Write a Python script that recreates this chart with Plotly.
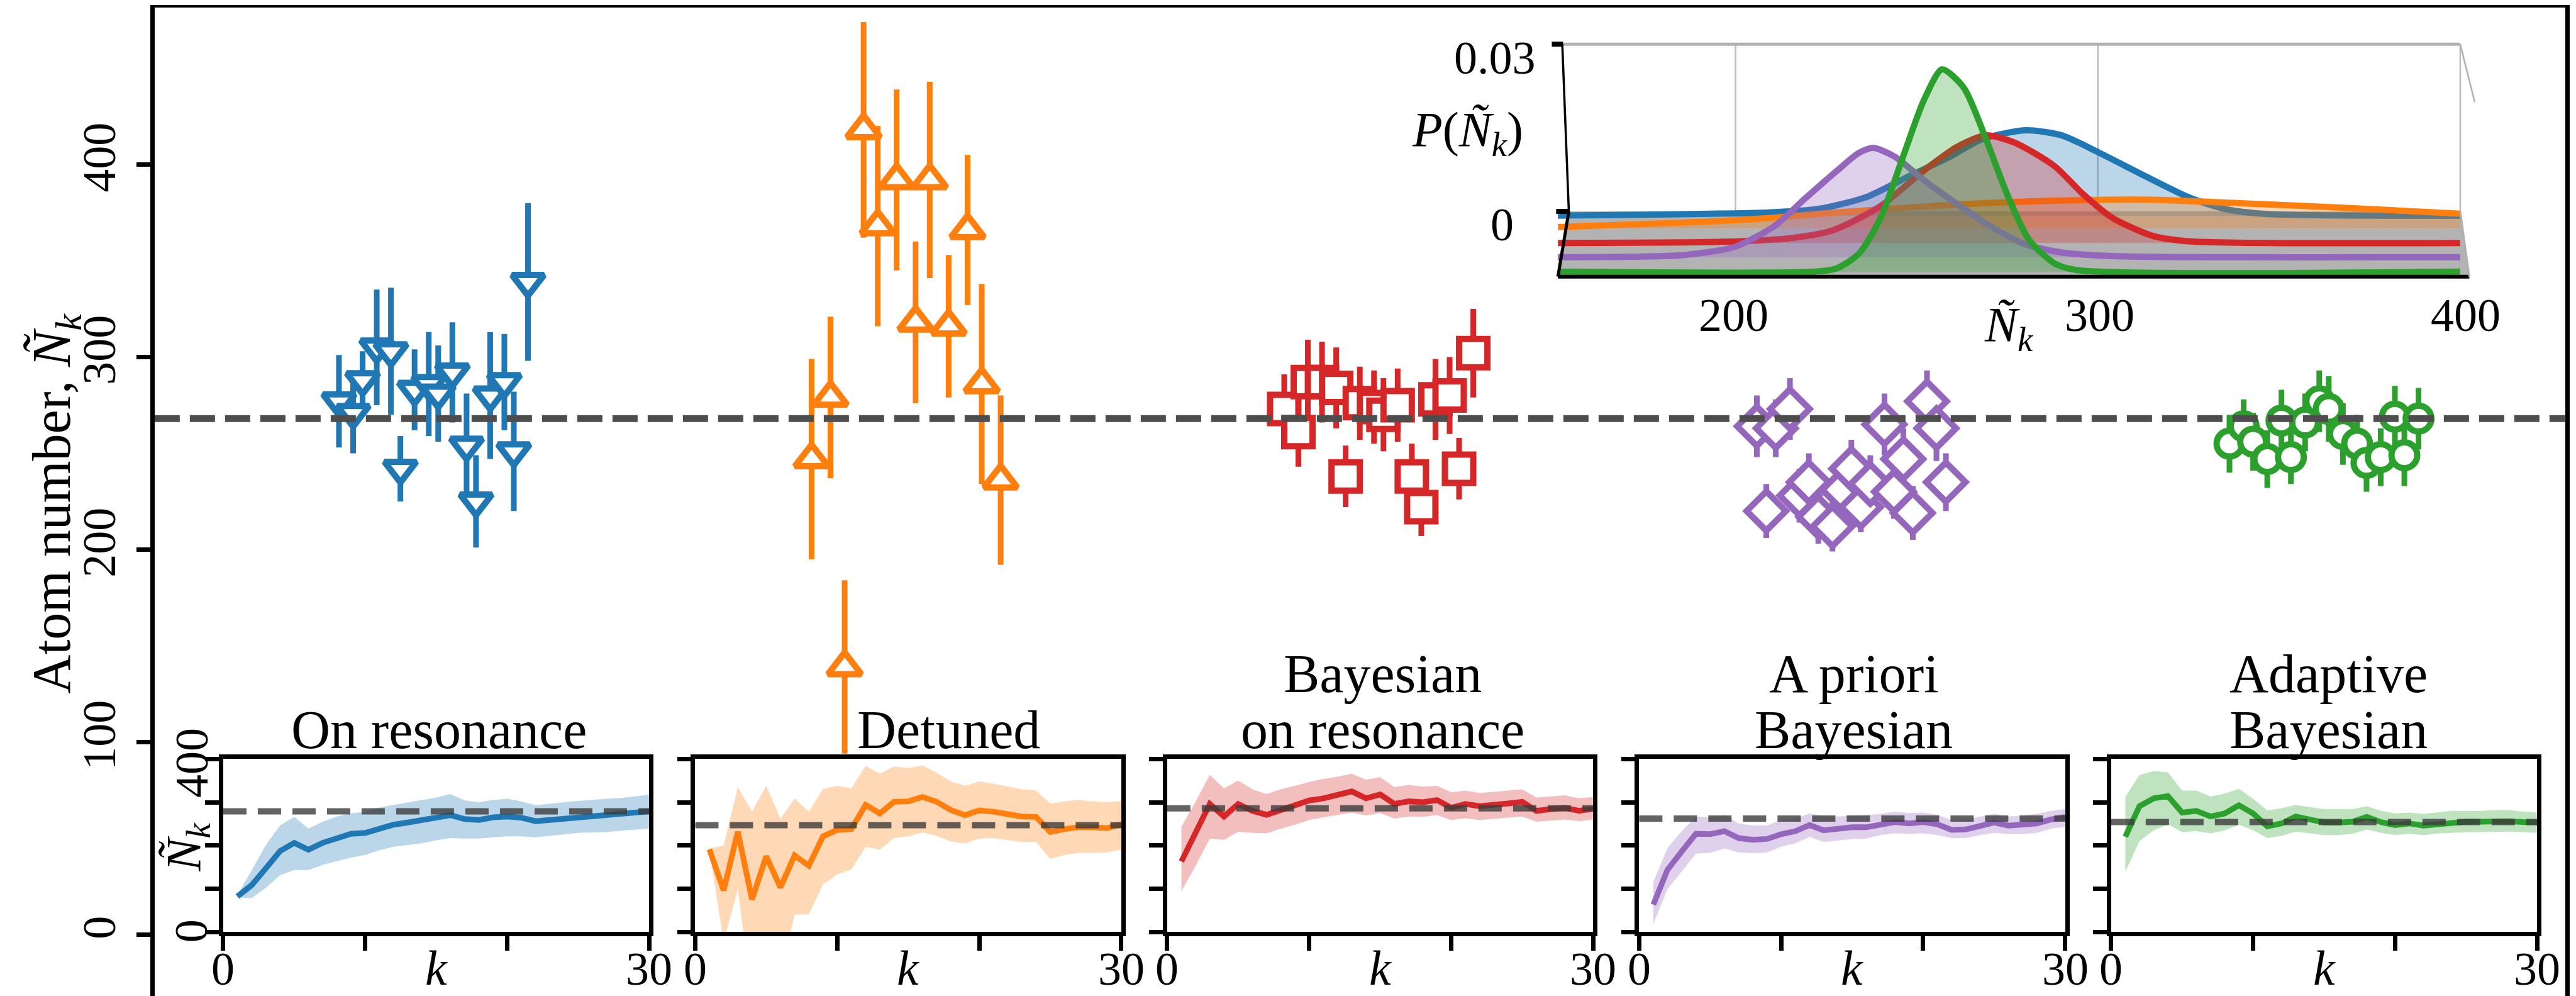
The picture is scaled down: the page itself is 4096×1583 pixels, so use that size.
import plotly.graph_objects as go

# ---------------- data ----------------
BLUE, ORANGE, RED, PURPLE, GREEN = '#1f77b4', '#ff7f0e', '#d62728', '#9467bd', '#2ca02c'

TRUE_N = 268

# main panel: per-protocol estimates (x = group index + offset)
blue_dx = [-0.21, -0.18, -0.16, -0.13, -0.10, -0.08, -0.05, -0.02, 0.00, 0.03, 0.06, 0.08, 0.11, 0.14, 0.16, 0.19]
blue_y = [277, 271, 288, 305, 303, 242, 283, 286, 281, 292, 254, 225, 280, 287, 251, 339]
blue_err = [24, 21, 15, 30, 33, 17, 21, 27, 25, 26, 27, 24, 33, 25, 31, 41]

orange_dx = [-0.21, -0.17, -0.14, -0.10, -0.07, -0.03, 0.01, 0.04, 0.08, 0.12, 0.15, 0.19]
orange_y = [247, 279, 139, 418, 368, 392, 318, 392, 316, 366, 286, 236]
orange_err = [52, 42, 45, 56, 52, 47, 42, 51, 37, 39, 52, 44]

red_dx = [-0.21, -0.18, -0.16, -0.13, -0.10, -0.08, -0.05, -0.02, 0.00, 0.03, 0.06, 0.08, 0.11, 0.14, 0.16, 0.19]
red_y = [273, 261, 287, 287, 284, 238, 276, 274, 270, 275, 238, 222, 278, 280, 242, 302]
red_err = [18, 18, 22, 21, 21, 16, 19, 19, 19, 19, 17, 15, 21, 20, 16, 23]

purple_dx = [-0.21, -0.19, -0.17, -0.14, -0.12, -0.10, -0.08, -0.05, -0.03, -0.01, 0.01, 0.03, 0.06, 0.08, 0.10, 0.12, 0.15, 0.17, 0.19]
purple_y = [264, 220, 263, 273, 228, 235, 217, 212, 231, 242, 222, 234, 265, 230, 247, 219, 277, 263, 235]
purple_err = [16, 14, 15, 16, 14, 15, 14, 13, 13, 15, 13, 15, 16, 14, 16, 14, 16, 17, 15]

green_dx = [-0.21, -0.18, -0.16, -0.13, -0.10, -0.08, -0.05, -0.02, 0.00, 0.03, 0.06, 0.08, 0.11, 0.14, 0.16, 0.19]
green_y = [255, 264, 256, 247, 267, 248, 266, 277, 273, 260, 255, 245, 248, 269, 249, 268]
green_err = [15, 14, 15, 15, 16, 14, 15, 16, 17, 16, 15, 15, 15, 16, 16, 16]

# bottom panels: running estimate vs k
k_vals = list(range(1, 31))
res_mean = [82, 108, 147, 187, 206, 190, 206, 218, 227, 229, 240, 248, 253, 258, 265, 270, 261, 259, 265, 267, 264, 256, 259, 262, 266, 268, 270, 272, 275, 279]
res_hi = [86, 142, 201, 246, 266, 239, 255, 267, 274, 278, 288, 294, 300, 305, 311, 319, 304, 300, 305, 308, 302, 293, 297, 300, 303, 306, 308, 310, 314, 317]
res_lo = [80, 78, 102, 131, 143, 143, 155, 164, 172, 178, 189, 197, 201, 205, 212, 217, 216, 216, 219, 221, 221, 219, 222, 226, 229, 230, 231, 234, 237, 239]

det_mean = [191, 96, 232, 75, 175, 103, 177, 153, 221, 236, 238, 294, 274, 301, 302, 312, 301, 282, 270, 281, 278, 273, 267, 266, 231, 238, 242, 242, 240, 249]
det_hi = [193, 200, 335, 278, 338, 262, 308, 278, 331, 338, 332, 384, 366, 383, 379, 385, 368, 348, 338, 348, 343, 336, 330, 327, 297, 302, 305, 302, 300, 303]
det_lo = [189, -23, 99, -155, -120, -103, 40, 40, 110, 133, 145, 197, 190, 217, 221, 230, 222, 209, 205, 216, 217, 213, 208, 208, 169, 178, 183, 183, 184, 190]

bay_mean = [163, 227, 296, 267, 296, 280, 271, 282, 293, 304, 309, 318, 325, 309, 318, 296, 302, 300, 305, 287, 296, 291, 293, 297, 301, 280, 284, 287, 280, 285]
bay_hi = [243, 301, 363, 332, 350, 330, 319, 330, 338, 347, 354, 359, 366, 352, 358, 335, 340, 336, 338, 323, 327, 321, 324, 327, 330, 311, 313, 316, 309, 312]
bay_lo = [94, 153, 216, 213, 232, 229, 228, 239, 248, 259, 265, 271, 276, 269, 275, 262, 267, 266, 270, 259, 263, 259, 262, 265, 267, 255, 258, 260, 256, 260]

apr_mean = [63, 144, 186, 227, 226, 233, 217, 213, 215, 226, 233, 247, 235, 239, 242, 242, 249, 254, 251, 254, 249, 236, 237, 246, 253, 246, 247, 251, 260, 266]
apr_hi = [115, 194, 233, 267, 265, 270, 251, 246, 246, 259, 262, 274, 267, 267, 269, 270, 273, 278, 275, 276, 271, 259, 260, 267, 273, 267, 269, 273, 280, 284]
apr_lo = [18, 99, 140, 181, 183, 193, 184, 182, 184, 197, 205, 220, 208, 211, 215, 216, 224, 228, 227, 228, 224, 217, 217, 224, 229, 226, 226, 229, 239, 243]

ada_mean = [220, 291, 309, 314, 276, 280, 267, 274, 293, 274, 244, 251, 267, 259, 253, 253, 255, 266, 254, 247, 251, 246, 249, 254, 255, 255, 256, 256, 254, 253]
ada_hi = [312, 363, 372, 369, 327, 327, 313, 320, 331, 308, 281, 286, 294, 289, 284, 284, 284, 291, 280, 274, 276, 273, 276, 280, 280, 280, 282, 282, 278, 276]
ada_lo = [139, 210, 235, 249, 231, 233, 228, 235, 248, 235, 217, 222, 232, 228, 224, 224, 227, 237, 229, 224, 227, 224, 228, 229, 231, 231, 232, 232, 231, 229]

ref_lines = [279, 247, 286, 262, 254]

titles = [["On resonance"], ["Detuned"], ["Bayesian", "on resonance"], ["A priori", "Bayesian"], ["Adaptive", "Bayesian"]]

K_TICKS = [0, 10, 20, 30]
K_LABELS = ['0', '30']          # labels shown at k = 0 and k = 30
N_TICKS = [0, 100, 200, 300, 400]
N_LABELS = ['0', '400']         # labels shown (first panel only)

# inset: final posteriors P(N_k)
blue_px = [151, 209, 223, 236, 248, 259, 268, 280, 290, 300, 313, 325, 335, 346, 400]
blue_pp = [0, 0.00055, 0.0012, 0.0033, 0.0071, 0.0105, 0.0137, 0.0153, 0.0144, 0.0114, 0.0071, 0.0033, 0.0012, 0.0003, 0]
orange_px = [151, 202, 232, 263, 294, 315, 335, 367, 400]
orange_pp = [0.0002, 0.0015, 0.003, 0.0043, 0.005, 0.0051, 0.0046, 0.0037, 0.0026]
red_px = [151, 196, 215, 227, 240, 252, 261, 269, 277, 288, 296, 304, 315, 325, 400]
red_pp = [0, 0.0002, 0.00085, 0.0023, 0.0066, 0.013, 0.0172, 0.0193, 0.018, 0.0138, 0.0087, 0.0045, 0.0013, 0.0003, 0]
purple_px = [151, 186, 200, 211, 219, 228, 234, 238, 244, 252, 261, 271, 280, 290, 304, 400]
purple_pp = [0, 0.0004, 0.0019, 0.0057, 0.0104, 0.0155, 0.0187, 0.0196, 0.018, 0.0138, 0.0096, 0.0053, 0.0023, 0.00085, 0.0002, 0]
green_px = [151, 222, 228, 234, 240, 246, 252, 257, 263, 269, 275, 281, 288, 294, 400]
green_pp = [0, 0, 0.0006, 0.0032, 0.0096, 0.0202, 0.0308, 0.0363, 0.033, 0.024, 0.0138, 0.0057, 0.0015, 0.0003, 0]
inset_xticks = ['200', '300', '400']

# ---------------- layout helpers (reference frame 4994 x 1930) ----------------
FW, FH = 4994.0, 1930.0
def px(v): return v / FW
def py(v): return 1 - v / FH

FONT = "Liberation Serif"
TICK_FS = 74
TITLE_FS = 86
LW = 6.5

def rgba(h, a):
    h = h.lstrip('#')
    return 'rgba(%d,%d,%d,%.2f)' % (int(h[0:2], 16), int(h[2:4], 16), int(h[4:6], 16), a)

fig = go.Figure()

# ---------------- main panel ----------------
groups = [
    (0, blue_dx, blue_y, blue_err, BLUE, 'triangle-down', 44),
    (1, orange_dx, orange_y, orange_err, ORANGE, 'triangle-up', 46),
    (2, red_dx, red_y, red_err, RED, 'square', 45),
    (3, purple_dx, purple_y, purple_err, PURPLE, 'diamond', 48),
    (4, green_dx, green_y, green_err, GREEN, 'circle', 41),
]
for gi, dxs, ys, es, col, sym, size in groups:
    fig.add_trace(go.Scatter(
        x=[gi + d for d in dxs], y=ys, mode='markers', xaxis='x', yaxis='y',
        error_y=dict(type='data', array=es, visible=True, color=col, thickness=9, width=0),
        marker=dict(symbol=sym, size=size, color='white', line=dict(color=col, width=10)),
        showlegend=False, hoverinfo='skip'))

# ---------------- bottom panels ----------------
subdata = [(res_mean, res_lo, res_hi, BLUE), (det_mean, det_lo, det_hi, ORANGE),
           (bay_mean, bay_lo, bay_hi, RED), (apr_mean, apr_lo, apr_hi, PURPLE),
           (ada_mean, ada_lo, ada_hi, GREEN)]
for i, (m, lo, hi, col) in enumerate(subdata):
    a = i + 2
    fig.add_trace(go.Scatter(x=k_vals, y=lo, mode='lines', line=dict(width=0, color=col),
                             xaxis='x%d' % a, yaxis='y%d' % a, showlegend=False, hoverinfo='skip'))
    fig.add_trace(go.Scatter(x=k_vals, y=hi, mode='lines', line=dict(width=0, color=col),
                             fill='tonexty', fillcolor=rgba(col, 0.3),
                             xaxis='x%d' % a, yaxis='y%d' % a, showlegend=False, hoverinfo='skip'))
    fig.add_trace(go.Scatter(x=k_vals, y=m, mode='lines', line=dict(width=9, color=col),
                             xaxis='x%d' % a, yaxis='y%d' % a, showlegend=False, hoverinfo='skip'))

# ---------------- inset ----------------
DEPTH = [0.00074, 0.003, 0.00565, 0.0082, 0.0108]
curves = [(blue_px, blue_pp, BLUE), (orange_px, orange_pp, ORANGE), (red_px, red_pp, RED),
          (purple_px, purple_pp, PURPLE), (green_px, green_pp, GREEN)]
for (xs, ps, col), d in zip(curves, DEPTH):
    fig.add_trace(go.Scatter(x=xs, y=[-d] * len(xs), mode='lines', line=dict(width=0, color=col),
                             xaxis='x7', yaxis='y7', showlegend=False, hoverinfo='skip'))
    fig.add_trace(go.Scatter(x=xs, y=[p - d for p in ps], mode='lines',
                             line=dict(width=10, color=col, shape='spline', smoothing=0.7),
                             fill='tonexty', fillcolor=rgba(col, 0.3),
                             xaxis='x7', yaxis='y7', showlegend=False, hoverinfo='skip'))

# ---------------- axes ----------------
layout = dict(
    width=4096, height=1583, margin=dict(l=0, r=0, t=0, b=0, pad=0, autoexpand=False),
    paper_bgcolor='white', plot_bgcolor='rgba(0,0,0,0)',
    font=dict(family=FONT, size=TICK_FS, color='black'),
    showlegend=False,
)
layout['xaxis'] = dict(domain=[px(290), px(4963)], range=[-0.6, 4.5], anchor='y', automargin=False,
                       showticklabels=False, ticks='', showline=True, mirror=True,
                       linecolor='black', linewidth=LW, showgrid=False, zeroline=False)
layout['yaxis'] = dict(domain=[py(1928), py(5)], range=[-34, 481.5], anchor='x', automargin=False,
                       tickvals=N_TICKS, ticks='outside', ticklen=22, tickwidth=LW,
                       tickcolor='black', tickangle=-90, showline=True, mirror=True,
                       linecolor='black', linewidth=LW, showgrid=False, zeroline=False,
                       ticklabelstandoff=5, tickfont=dict(family=FONT, size=TICK_FS))

SUB_LEFT = [423, 1338, 2253, 3168, 4083]
SUB_W = 826
for i in range(5):
    a = i + 2
    layout['xaxis%d' % a] = dict(domain=[px(SUB_LEFT[i]), px(SUB_LEFT[i] + SUB_W)], range=[0, 30],
                                 anchor='y%d' % a, automargin=False, tickvals=K_TICKS,
                                 showticklabels=False,
                                 ticks='outside', ticklen=23, tickwidth=LW, tickcolor='black',
                                 showline=True, mirror=True, linecolor='black', linewidth=LW,
                                 showgrid=False, zeroline=False)
    layout['yaxis%d' % a] = dict(domain=[py(1796), py(1461)], range=[0, 400], anchor='x%d' % a,
                                 automargin=False, tickvals=N_TICKS, showticklabels=False,
                                 ticks='outside', ticklen=22, tickwidth=LW, tickcolor='black',
                                 showline=True, mirror=True, linecolor='black', linewidth=LW,
                                 showgrid=False, zeroline=False)

layout['xaxis7'] = dict(domain=[px(2986), px(4795)], range=[147.5, 405], anchor='y7', visible=False,
                        automargin=False)
layout['yaxis7'] = dict(domain=[py(535), py(70.6)], range=[-0.0125, 0.0305], anchor='x7', visible=False,
                        automargin=False)

# ---------------- shapes ----------------
shapes = []
shapes.append(dict(type='line', xref='x domain', yref='y', x0=0, x1=1, y0=TRUE_N, y1=TRUE_N,
                   line=dict(color='#4d4d4d', width=11, dash='40px,16px'), layer='above'))
for i in range(5):
    a = i + 2
    shapes.append(dict(type='line', xref='x%d domain' % a, yref='y%d' % a, x0=0, x1=1,
                       y0=ref_lines[i], y1=ref_lines[i],
                       line=dict(color='rgba(60,60,60,0.8)', width=10, dash='37px,18px'), layer='above'))

# inset 3-D box decoration (in inset coordinates)
FLOOR = -0.0117
shapes.append(dict(type='path', xref='x7', yref='y7',
                   path='M 154,0 L 400,0 L 402.5,%g L 151,%g Z' % (FLOOR, FLOOR),
                   fillcolor='#b3b3b3', line=dict(width=0), layer='below'))
for gx in [200, 300, 400]:
    shapes.append(dict(type='line', xref='x7', yref='y7', x0=gx, x1=gx, y0=0, y1=0.03,
                       line=dict(color='#bdbdbd', width=2.5), layer='below'))
shapes.append(dict(type='line', xref='x7', yref='y7', x0=152.2, x1=400, y0=0.03, y1=0.03,
                   line=dict(color='#b0b0b0', width=5), layer='below'))
shapes.append(dict(type='line', xref='x7', yref='y7', x0=400, x1=404, y0=0.03, y1=0.0196,
                   line=dict(color='#b0b0b0', width=2.5), layer='below'))
shapes.append(dict(type='line', xref='x7', yref='y7', x0=152.2, x1=154, y0=0.03, y1=0,
                   line=dict(color='black', width=3.5)))
shapes.append(dict(type='line', xref='x7', yref='y7', x0=154, x1=151, y0=0, y1=FLOOR,
                   line=dict(color='black', width=5)))
shapes.append(dict(type='line', xref='x7', yref='y7', x0=151, x1=402.5, y0=FLOOR, y1=FLOOR,
                   line=dict(color='black', width=6)))
shapes.append(dict(type='line', xref='x7', yref='y7', x0=400, x1=402.5, y0=0, y1=FLOOR,
                   line=dict(color='#b0b0b0', width=3)))
shapes.append(dict(type='line', xref='x7', yref='y7', x0=149.3, x1=152.4, y0=0.03, y1=0.03,
                   line=dict(color='black', width=8)))
shapes.append(dict(type='line', xref='x7', yref='y7', x0=150.5, x1=154.2, y0=0, y1=0,
                   line=dict(color='black', width=8)))
layout['shapes'] = shapes

# ---------------- annotations ----------------
ann = []
def text(x, y, s, size=TICK_FS, angle=0, xanchor='center', yanchor='middle'):
    ann.append(dict(x=px(x), y=py(y), xref='paper', yref='paper', text=s, showarrow=False,
                    textangle=angle, xanchor=xanchor, yanchor=yanchor,
                    font=dict(family=FONT, size=size, color='black')))

NK = '<i>Ñ</i><sub><i>k</i></sub>'
text(98, 966, 'Atom number, ' + NK, size=TITLE_FS, angle=-90)
text(352, 1631, NK, size=TICK_FS + 4, angle=-90)

# first bottom panel y tick labels (rotated)
text(362, 1794, N_LABELS[0], angle=-90)
text(362, 1468, N_LABELS[1], angle=-90)

TITLE_X = [841, 1830, 2671, 3584, 4504]
for i, lines in enumerate(titles):
    for j, ln in enumerate(reversed(lines)):
        text(TITLE_X[i], 1404 - 108 * j, ln, size=TITLE_FS)
    text(SUB_LEFT[i] + SUB_W / 2, 1866, '<i>k</i>', size=TICK_FS + 4)
    text(SUB_LEFT[i], 1868, K_LABELS[0])
    text(SUB_LEFT[i] + SUB_W, 1868, K_LABELS[1])

# inset labels
text(2970, 102, '0.03', xanchor='right')
text(2927, 425, '0', xanchor='right')
for lab, xx in zip(inset_xticks, [3351, 4061, 4770]):
    text(xx, 601, lab)
text(3885, 626, NK, size=TICK_FS + 4)
text(2835, 248, '<i>P</i>(' + NK + ')', size=TICK_FS + 4)
layout['annotations'] = ann

fig.update_layout(**layout)
fig.write_html("out.html")
